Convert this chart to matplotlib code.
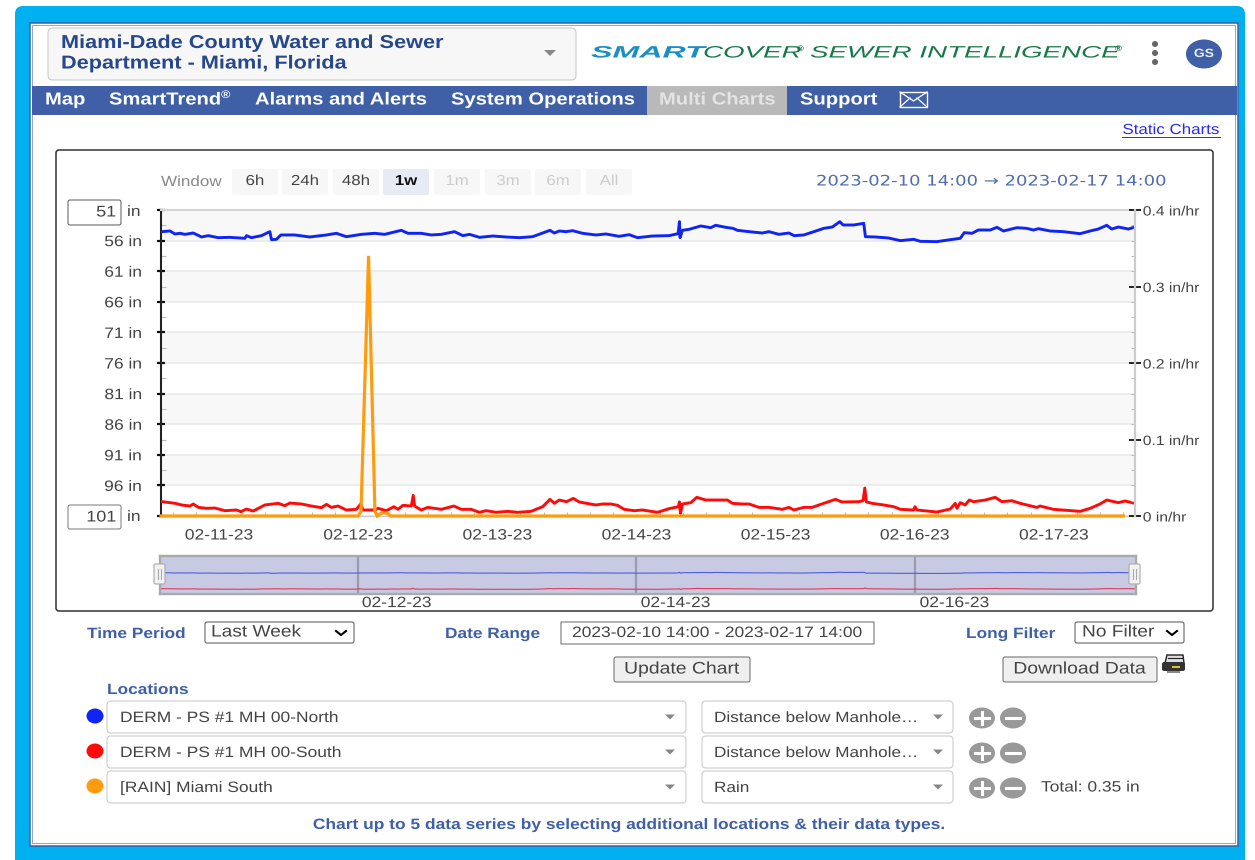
import matplotlib
matplotlib.use("Agg")
import matplotlib.pyplot as plt
import matplotlib.patheffects as pe
from matplotlib.patches import FancyBboxPatch, Rectangle, Ellipse, Polygon
from matplotlib.ticker import FixedLocator
from matplotlib.transforms import Affine2D

plt.rcParams['font.family'] = ['Liberation Sans', 'DejaVu Sans']

# hours since 2023-02-10 14:00, depth in inches below the manhole rim
north_hours = [0.1, 1.55, 2.41, 3.27, 4.13, 5.57, 7.0, 8.15, 9.87, 11.88, 14.47, 14.75, 15.6, 17.34,
               18.77, 19.06, 19.92, 20.67, 23.08, 25.66, 28.53, 30.25, 31.98, 34.56, 36.85, 38.58,
               41.45, 42.6, 44.89, 46.61, 48.34, 50.63, 52.07, 53.21, 54.94, 57.22, 59.51, 61.81,
               64.1, 65.83, 67.09, 67.84, 68.7, 69.85, 71.0, 72.72, 75.01, 76.73, 79.03, 80.75,
               82.19, 84.77, 87.64, 89.19, 89.42, 89.53, 89.94, 91.09, 93.09, 94.82, 95.68, 97.4,
               98.66, 99.41, 101.42, 103.71, 104.86, 106.6, 108.3, 109.2, 110.88, 112.6, 114.3,
               115.8, 117.08, 117.65, 119.49, 121.21, 121.5, 123.22, 125.52, 127.53, 129.82,
               130.97, 133.84, 136.14, 137.86, 138.55, 139.87, 141.0, 143.03, 144.18, 145.32,
               147.62, 149.34, 150.49, 151.35, 153.36, 155.66, 158.53, 160.25, 161.68, 163.12,
               163.98, 165.13, 166.85, 168.0]
north_depth = [54.54, 54.43, 54.92, 54.81, 54.98, 54.76, 55.41, 55.19, 55.52, 55.47, 55.63, 55.19, 55.52, 55.19,
               54.54, 55.85, 55.79, 55.08, 55.08, 55.41, 55.08, 54.81, 55.36, 54.98, 54.81, 54.98,
               54.32, 54.81, 54.81, 55.08, 54.98, 54.54, 55.19, 54.98, 55.47, 55.25, 55.41, 55.52,
               55.36, 54.76, 54.32, 54.76, 54.43, 54.54, 54.38, 54.81, 55.08, 54.92, 55.3, 55.03,
               55.52, 55.25, 55.19, 54.87, 52.91, 55.52, 54.32, 54.16, 53.61, 53.89, 53.5, 53.83,
               54.0, 54.32, 54.54, 54.76, 54.54, 54.98, 54.76, 55.19, 55.08, 54.54, 54.0,
               53.78, 52.91, 53.45, 53.45, 53.18, 55.36, 55.41, 55.58, 56.01, 55.79,
               56.12, 56.17, 55.85, 55.63, 54.7, 54.81, 54.27, 54.27, 53.83, 54.43,
               53.89, 54.0, 54.27, 54.05, 54.43, 54.54, 54.87, 54.43, 54.11, 53.5,
               54.11, 53.78, 54.11, 53.78]

south_hours = [0.23, 1.55, 2.41, 3.56, 4.99, 5.57, 6.43, 7.86, 9.3, 11.02, 13.03, 13.78, 14.75, 15.9,
               17.91, 20.21, 21.35, 22.22, 24.23, 25.95, 27.67, 28.53, 29.39, 30.54, 31.97, 33.7,
               34.44, 34.85, 36.85, 37.43, 38.86, 40.18, 40.87, 41.73, 43.17, 43.51, 43.74, 44.89,
               46.04, 48.34, 50.52, 51.78, 53.5, 54.92, 56.07, 57.79, 59.8, 61.52, 63.82, 65.83,
               67.09, 67.84, 68.7, 69.96, 71.11, 72.14, 75.01, 76.16, 77.6, 78.74, 79.89, 81.61,
               83.05, 85.63, 87.64, 89.25, 89.42, 89.59, 89.94, 91.37, 92.41, 93.96, 95.39, 97.69,
               98.55, 100.27, 101.42, 103.14, 104.86, 107.16, 108.31, 109.17, 110.88, 112.31,
               114.32, 116.33, 117.48, 120.35, 121.1, 121.39, 121.67, 122.65, 124.66, 126.38,
               127.53, 129.82, 130.05, 130.4, 133.84, 136.14, 137.0, 137.29, 137.86, 138.72,
               139.41, 140.16, 142.17, 143.89, 145.04, 146.76, 148.19, 151.06, 151.64, 153.93,
               158.53, 160.25, 161.97, 163.12, 165.13, 166.27, 168.0]
south_depth = [98.66, 98.82, 98.93, 99.2, 99.37, 99.04, 99.59, 99.75, 99.7, 100.13, 100.02, 100.29, 99.86, 100.19,
               99.2, 98.93, 99.31, 98.88, 99.04, 99.37, 99.64, 99.1, 99.59, 99.37, 100.02, 99.91,
               99.04, 100.02, 100.02, 99.75, 100.13, 99.48, 99.91, 99.26, 99.37, 97.63, 99.37, 100.02,
               99.59, 99.91, 99.37, 99.91, 99.91, 100.4, 100.13, 100.4, 100.24, 100.4, 100.24, 99.48,
               98.28, 98.93, 98.39, 98.66, 98.12, 98.71, 99.2, 99.04, 99.04, 99.26, 99.91, 100.13,
               100.02, 100.4, 99.8, 99.48, 98.71, 100.57, 99.04, 98.82, 97.95, 98.39, 98.39, 98.39,
               98.93, 99.04, 99.04, 99.59, 99.59, 99.91, 99.59, 100.02, 99.59, 99.59,
               98.93, 98.28, 98.71, 98.66, 98.5, 96.43, 98.71, 98.93, 99.2, 99.48,
               99.91, 100.02, 99.48, 100.02, 100.35, 99.86, 98.93, 99.75, 98.82, 99.2,
               98.39, 98.66, 98.39, 97.95, 98.66, 98.5, 98.93, 99.59, 99.37, 99.91,
               100.24, 99.75, 99.04, 98.39, 98.82, 98.55, 98.93]

rain_hours = [0, 34.0, 34.5, 35.8, 36.9, 37.3, 38.0, 39.0, 39.6, 166.0]
rain_rate = [0, 0, 0.006, 0.34, 0.006, 0, 0.004, 0.004, 0, 0]

depth_ticks = [51, 56, 61, 66, 71, 76, 81, 86, 91, 96, 101]
depth_labels = ['', '56 in', '61 in', '66 in', '71 in', '76 in', '81 in', '86 in', '91 in', '96 in', '']
rain_ticks = [0, 0.1, 0.2, 0.3, 0.4]
rain_labels = ['0 in/hr', '0.1 in/hr', '0.2 in/hr', '0.3 in/hr', '0.4 in/hr']
day_ticks = [10, 34, 58, 82, 106, 130, 154]
day_labels = ['02-11-23', '02-12-23', '02-13-23', '02-14-23', '02-15-23', '02-16-23', '02-17-23']
nav_ticks = [34, 82, 130]
nav_labels = ['02-12-23', '02-14-23', '02-16-23']

BLUE = '#3f60a6'
SX = 1.16  # the whole screenshot is a bit wider than tall


class StretchX(pe.AbstractPathEffect):
    def __init__(self, x0, sx=SX):
        self.x0 = x0
        self.sx = sx

    def draw_path(self, renderer, gc, tpath, affine, rgbFace=None):
        stretch = Affine2D().translate(-self.x0, 0).scale(self.sx, 1).translate(self.x0, 0)
        renderer.draw_path(gc, tpath, affine + stretch, rgbFace)


fig = plt.figure(figsize=(12.55, 8.6), dpi=100)
ui = fig.add_axes([0, 0, 1, 1], zorder=0)
ui.set_xlim(0, 1255)
ui.set_ylim(860, 0)
ui.axis('off')


def box(x0, y0, x1, y1, fc='white', ec='#cccccc', lw=0.8, r=0):
    ui.add_patch(FancyBboxPatch((x0, y0), x1 - x0, y1 - y0, boxstyle='round,pad=0,rounding_size=%g' % r,
                                fc=fc, ec=ec, lw=lw))


def txt(x, y, s, px=15, color='#444444', weight='normal', ha='left', sx=SX, **kw):
    t = ui.text(x, y, s, fontsize=px * 0.72, color=color, weight=weight, ha=ha, va='center', **kw)
    t.set_path_effects([StretchX(x, sx)])
    return t


def tri(x, y, w=6, h=6, color='#888888'):
    ui.add_patch(Polygon([(x - w, y - h / 2), (x + w, y - h / 2), (x, y + h / 2)], fc=color, ec='none'))


def chevron(x, y):
    ui.plot([x - 5, x, x + 5], [y - 2, y + 2, y - 2], color='black', lw=1.5)


# outer frame
ui.add_patch(FancyBboxPatch((15, 6), 1230, 880, boxstyle='round,pad=0,rounding_size=8', fc='#00b0f0', ec='none'))
box(30, 23, 1238, 846, fc='white', ec=BLUE, lw=1.1)
box(32.5, 25.5, 1235.5, 843.5, fc='white', ec='#7f95c4', lw=0.6)

# header
box(48, 28, 576, 80, fc='#f7f7f7', ec='#cccccc', lw=0.8, r=5)
txt(61, 43.5, 'Miami-Dade County Water and Sewer', 18.7, '#26478a', 'bold')
txt(61, 64, 'Department - Miami, Florida', 18.7, '#26478a', 'bold')
tri(550, 53)

logo_parts = [(591, 'SMART', '#1b8fc4', 'bold', 1.95), (703, 'COVER', '#17794a', 'normal', 1.68),
              (810, 'SEWER INTELLIGENCE', '#17794a', 'normal', 1.68)]
for lx, ls, lc, lw_, lsx in logo_parts:
    txt(lx, 53, ls, 16.5, lc, lw_, sx=lsx, style='italic')
txt(797, 49.5, '®', 8, '#17794a', 'bold')
txt(1115, 49.5, '®', 8, '#17794a', 'bold')
for dy in [44, 53, 62]:
    ui.add_patch(Ellipse((1155, dy), 6, 6, fc='#666666', ec='none'))
ui.add_patch(Ellipse((1204, 54), 36, 29, fc=BLUE, ec='none'))
txt(1204, 54, 'GS', 12, '#e8edf5', 'bold', ha='center')

# nav bar
ui.add_patch(Rectangle((32, 86), 1205, 29, fc=BLUE, ec='none'))
ui.add_patch(Rectangle((647, 86), 140, 29, fc='#b9b9b9', ec='none'))
for nx, ns, nc in [(45, 'Map', 'white'), (109, 'SmartTrend', 'white'), (255, 'Alarms and Alerts', 'white'),
                   (451, 'System Operations', 'white'), (659, 'Multi Charts', '#e4e4e4'), (800, 'Support', 'white')]:
    txt(nx, 100, ns, 17.4, nc, 'bold')
txt(221, 95, '®', 11, 'white', 'bold')
ui.add_patch(Rectangle((900, 92), 27, 15, fc='none', ec='white', lw=1.0))
ui.plot([900, 913.5, 927], [92, 101, 92], color='white', lw=0.9)
ui.plot([900, 910], [107, 98], color='white', lw=0.9)
ui.plot([927, 917], [107, 98], color='white', lw=0.9)

t = txt(1220, 130, 'Static Charts', 14.6, '#2a2af0', ha='right')
ui.plot([1122, 1220], [137, 137], color='#2a2af0', lw=0.7)

# chart frame
box(56, 150, 1213, 611, fc='white', ec='#333333', lw=1.1, r=3)
txt(161, 182, 'Window', 14.7, '#888888')
buttons = [(232, '6h', '#444444', '#f7f7f7', 'normal'), (282, '24h', '#444444', '#f7f7f7', 'normal'),
           (333, '48h', '#444444', '#f7f7f7', 'normal'), (383, '1w', '#111111', '#e6ebf5', 'bold'),
           (434, '1m', '#cccccc', '#f7f7f7', 'normal'), (485, '3m', '#cccccc', '#f7f7f7', 'normal'),
           (535, '6m', '#cccccc', '#f7f7f7', 'normal'), (586, 'All', '#cccccc', '#f7f7f7', 'normal')]
for bx, bs, bc, bf, bw in buttons:
    box(bx, 169, bx + 46, 195, fc=bf, ec='none', r=2)
    txt(bx + 23, 181, bs, 14.5, bc, bw, ha='center')
txt(1168, 181, '2023-02-10 14:00 → 2023-02-17 14:00', 14.5, '#4f6db0', ha='right', sx=1.24, family='DejaVu Sans')

box(68, 200, 121, 225, ec='#555555', lw=0.7, r=2)
txt(116, 212, '51', 15.5, ha='right')
txt(127, 212, 'in', 15)
box(68, 505, 121, 529, ec='#777777', lw=0.7, r=2)
txt(116, 517, '101', 15.5, ha='right')
txt(127, 517, 'in', 15)

# main plot
W, H = 1255.0, 860.0
ax = fig.add_axes([161 / W, 1 - 516 / H, 974 / W, 306 / H], zorder=2)
ax.set_xlim(0, 168)
ax.set_ylim(101, 51)
for k, lo in enumerate(depth_ticks[:-1]):
    if k % 2 == 0:
        ax.axhspan(lo, lo + 5, fc='#f8f8f8', ec='none', zorder=0)
ax.grid(axis='y', color='#e8e8e8', lw=1.1, zorder=1)
ax.set_yticks(depth_ticks, depth_labels, fontsize=15 * 0.72, color='#444444')
ax.yaxis.set_minor_locator(FixedLocator([d + 2.5 for d in depth_ticks[:-1]]))
ax.set_xticks(day_ticks, day_labels, fontsize=15 * 0.72, color='#444444')
ax.xaxis.set_minor_locator(FixedLocator(list(range(2, 168, 4))))
ax.tick_params(axis='y', which='major', direction='inout', length=6, width=1.6, color='#111111', pad=10.6)
ax.tick_params(axis='y', which='minor', direction='in', length=3.5, width=0.8, color='#bbbbbb')
ax.tick_params(axis='x', which='major', length=0, pad=9)
ax.tick_params(axis='x', which='minor', direction='in', length=3, width=0.8, color='#bbbbbb')
ax.plot(north_hours[:len(north_depth)], north_depth, color='#0f24f5', lw=2.1, zorder=3)
ax.plot(south_hours[:len(south_depth)], south_depth, color='#ff0a0a', lw=2.1, zorder=3)
ax.spines['left'].set(color='#222222', lw=1.5)
ax.spines['top'].set(color='#d4d4d4', lw=1.5)
ax.spines['right'].set_visible(False)
ax.spines['bottom'].set(color='#cccccc', lw=1)

rain = ax.twinx()
rain.set_zorder(3)
rain.set_ylim(0, 0.4)
rain.set_yticks(rain_ticks, rain_labels, fontsize=13.5 * 0.72, color='#444444')
rain.yaxis.set_minor_locator(FixedLocator([v / 100 for v in range(2, 40, 2)]))
rain.tick_params(axis='y', which='major', direction='inout', length=8, width=1.3, color='#111111', pad=1.6)
rain.tick_params(axis='y', which='minor', direction='in', length=3, width=0.8, color='#bbbbbb')
rain.plot(rain_hours, rain_rate, color='#ff9c0d', lw=2.3, clip_on=False, solid_joinstyle='miter')
rain.spines['right'].set(color='#cccccc', lw=1.6)
for s in ['left', 'top', 'bottom']:
    rain.spines[s].set_visible(False)

# range navigator
nav = fig.add_axes([160 / W, 1 - 594 / H, 976 / W, 38 / H], zorder=2, facecolor='#c8cae3')
nav.set_xlim(0, 168)
nav.set_ylim(113.4, 7.8)
nav.set_xticks(nav_ticks, [''] * len(nav_ticks))
nav.set_yticks([])
nav.tick_params(axis='x', length=0)
nav.grid(axis='x', color='#9a9bb0', lw=1.6)
nav.plot(north_hours[:len(north_depth)], north_depth, color='#4a5fdc', lw=0.8)
nav.plot(south_hours[:len(south_depth)], south_depth, color='#de3a5a', lw=0.8)
for s in nav.spines.values():
    s.set(color='#aaaaaa', lw=1.7)
for h, lab in zip(nav_ticks, nav_labels):
    px = nav.transData.transform((h, 0))[0] + 5
    a = nav.annotate(lab, (h, 0), xycoords=('data', 'axes fraction'), xytext=(3.2, -1.5), textcoords='offset points',
                     ha='left', va='top', fontsize=15 * 0.72, color='#444444')
    a.set_path_effects([StretchX(px)])

ov = fig.add_axes([0, 0, 1, 1], zorder=5, facecolor='none')
ov.set_xlim(0, 1255)
ov.set_ylim(860, 0)
ov.axis('off')
for hx in [159, 1134]:
    ov.add_patch(FancyBboxPatch((hx - 5, 564), 11, 20, boxstyle='round,pad=0,rounding_size=1.5', fc='#f2f2f2', ec='#aaaaaa', lw=0.8))
    ov.plot([hx - 1.5, hx - 1.5], [569, 579], color='#aaaaaa', lw=0.8)
    ov.plot([hx + 1.5, hx + 1.5], [569, 579], color='#aaaaaa', lw=0.8)

# stretch the tick labels like the rest of the screenshot
fig.canvas.draw()
for lab in ax.get_xticklabels() + ax.get_yticklabels() + rain.get_yticklabels():
    x0 = lab.get_transform().transform(lab.get_position())[0]
    lab.set_path_effects([StretchX(x0)])

# form controls
txt(87, 634, 'Time Period', 14.9, BLUE, 'bold')
box(205, 622, 354, 643, ec='#666666', r=2)
txt(211, 632, 'Last Week', 16.5)
chevron(341, 633)
txt(445, 634, 'Date Range', 14.9, BLUE, 'bold')
box(561, 622, 874, 644, ec='#777777')
txt(572, 633, '2023-02-10 14:00 - 2023-02-17 14:00', 15)
txt(966, 634, 'Long Filter', 14.9, BLUE, 'bold')
box(1075, 622, 1184, 643, ec='#666666', r=2)
txt(1082, 632, 'No Filter', 16.5)
chevron(1172, 633)

box(614, 657, 750, 682, fc='#efefef', ec='#777777', r=2)
txt(682, 669, 'Update Chart', 16.7, ha='center')
box(1003, 657, 1157, 682, fc='#efefef', ec='#777777', r=2)
txt(1080, 669, 'Download Data', 16.7, ha='center')
# printer icon
ui.add_patch(Polygon([(1167, 655), (1183, 655), (1184, 663), (1165, 663)], fc='#dddddd', ec='#222222', lw=1))
ui.plot([1168, 1182], [658, 658], color='#222222', lw=0.8)
ui.add_patch(FancyBboxPatch((1162, 662), 23, 9, boxstyle='round,pad=0,rounding_size=2', fc='#333333', ec='none'))
ui.add_patch(Rectangle((1172, 666), 8, 2, fc='#d8c23a', ec='none'))
ui.add_patch(Rectangle((1167, 671), 13, 2, fc='#888888', ec='none'))

txt(107, 690, 'Locations', 14.9, BLUE, 'bold')
rows = [(716, 717, '#0f24f5', 'DERM - PS #1 MH 00-North', 'Distance below Manhole…'),
        (751, 752, '#ff0a0a', 'DERM - PS #1 MH 00-South', 'Distance below Manhole…'),
        (786, 787, '#ff9c0d', '[RAIN] Miami South', 'Rain')]
for dot_y, ty, dc, loc, kind in rows:
    ui.add_patch(Ellipse((95, dot_y), 17, 15, fc=dc, ec='none'))
    box(107, ty - 16, 686, ty + 16, r=4)
    box(702, ty - 16, 953, ty + 16, r=4)
    txt(120, ty + 1, loc, 15)
    txt(714, ty + 1, kind, 14.8)
    tri(670, ty, 5, 5)
    tri(938, ty, 5, 5)
    for cx, sign in [(982, '+'), (1013, '-')]:
        ui.add_patch(Ellipse((cx, ty + 1), 26, 21, fc='#999999', ec='none'))
        ui.plot([cx - 7, cx + 7], [ty + 1, ty + 1], color='white', lw=2.2)
        if sign == '+':
            ui.plot([cx, cx], [ty - 5, ty + 7], color='white', lw=2.2)
txt(1041, 787.5, 'Total: 0.35 in', 15)
txt(628, 825, 'Chart up to 5 data series by selecting additional locations & their data types.', 15, BLUE, 'bold', ha='center')

fig.savefig('out.png', dpi=100)
